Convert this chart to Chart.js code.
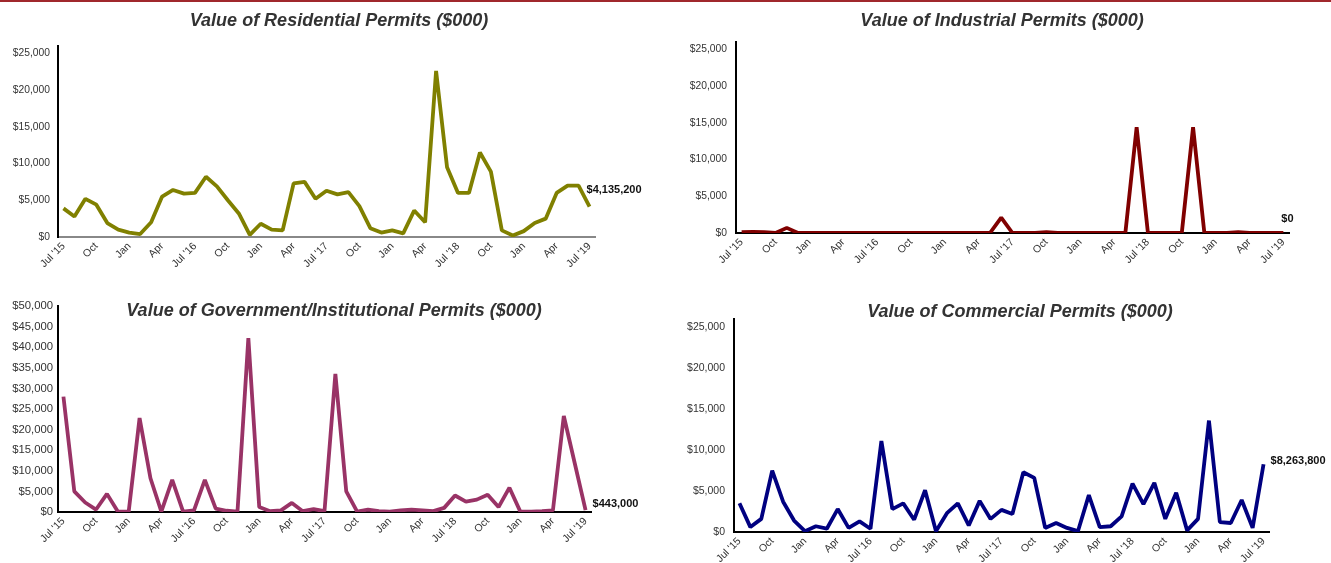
<!DOCTYPE html>
<html><head><meta charset="utf-8">
<script src="https://cdn.jsdelivr.net/npm/chart.js@4.4.1/dist/chart.umd.min.js"></script>
<style>
body{margin:0;width:1331px;height:563px;overflow:hidden;background:#fff;position:relative;font-family:"Liberation Sans",Arial,sans-serif;}
#topline{position:absolute;left:0;top:0;width:1331px;height:2px;background:#a0282c;}
.title{position:absolute;font:italic bold 18px "Liberation Sans",Arial,sans-serif;color:#333;transform:translate(-50%,-50%);white-space:nowrap;z-index:2;}
canvas{position:absolute;}
</style></head><body>
<div id="topline"></div>
<div class="title" style="left:339px;top:20px">Value of Residential Permits ($000)</div>
<div class="title" style="left:1002px;top:20px">Value of Industrial Permits ($000)</div>
<div class="title" style="left:334px;top:310px">Value of Government/Institutional Permits ($000)</div>
<div class="title" style="left:1020px;top:311px">Value of Commercial Permits ($000)</div>
<canvas id="c1" width="665" height="285" style="left:0;top:0"></canvas>
<canvas id="c2" width="666" height="285" style="left:665px;top:0"></canvas>
<canvas id="c3" width="665" height="278" style="left:0;top:285px"></canvas>
<canvas id="c4" width="666" height="278" style="left:665px;top:285px"></canvas>
<script>
const months = ["Jul '15","Aug '15","Sep '15","Oct '15","Nov '15","Dec '15",
"Jan '16","Feb '16","Mar '16","Apr '16","May '16","Jun '16","Jul '16","Aug '16","Sep '16","Oct '16","Nov '16","Dec '16",
"Jan '17","Feb '17","Mar '17","Apr '17","May '17","Jun '17","Jul '17","Aug '17","Sep '17","Oct '17","Nov '17","Dec '17",
"Jan '18","Feb '18","Mar '18","Apr '18","May '18","Jun '18","Jul '18","Aug '18","Sep '18","Oct '18","Nov '18","Dec '18",
"Jan '19","Feb '19","Mar '19","Apr '19","May '19","Jun '19","Jul '19"];
const tickLabels = ["Jul '15","Oct","Jan","Apr","Jul '16","Oct","Jan","Apr","Jul '17","Oct","Jan","Apr","Jul '18","Oct","Jan","Apr","Jul '19"];
const yTicks25 = [0,5000,10000,15000,20000,25000];
const yTicks50 = [0,5000,10000,15000,20000,25000,30000,35000,40000,45000,50000];

const residential = [3900,2800,5200,4400,1900,1000,600,400,2000,5500,6400,5900,6000,8200,6900,5000,3200,300,1800,1000,900,7300,7500,5200,6300,5800,6100,4200,1200,600,900,500,3600,2000,22600,9500,6000,6000,11500,8900,900,200,800,1900,2500,6000,7000,7000,4135.2];
const industrial = [100,150,100,0,700,0,0,0,0,0,0,0,0,0,0,0,0,0,0,0,0,0,0,2100,0,0,0,100,0,0,0,0,0,0,0,14400,0,0,0,0,14400,0,0,0,100,0,0,0,0];
const government = [28000,5000,2300,600,4400,100,100,22800,8200,100,7800,100,400,7800,800,300,100,42200,1200,200,400,2200,200,700,200,33500,5000,100,600,200,100,400,600,400,200,1000,4000,2500,3000,4200,1200,5900,100,100,200,400,23300,11900,443];
const commercial = [3500,600,1600,7500,3700,1400,100,700,400,2800,500,1300,400,11100,2800,3500,1500,5100,100,2300,3500,800,3800,1600,2700,2200,7300,6600,500,1100,500,100,4500,600,700,1900,5900,3400,6000,1600,4800,200,1600,13600,1200,1100,3900,500,8263.8];

const FONT = '"Liberation Sans", Arial, sans-serif';

const endLabel = {
  id: 'endLabel',
  afterDatasetsDraw(chart, args, opts) {
    const meta = chart.getDatasetMeta(0);
    const pt = meta.data[meta.data.length - 1];
    const ds = chart.data.datasets[0].data;
    const v = Math.round(ds[ds.length - 1] * 1000);
    const ctx = chart.ctx;
    ctx.save();
    ctx.font = 'bold 11px ' + FONT;
    ctx.fillStyle = '#111';
    ctx.textBaseline = 'middle';
    ctx.textAlign = 'left';
    ctx.fillText('$' + v.toLocaleString('en-US'), pt.x + opts.dx, pt.y + opts.dy);
    ctx.restore();
  }
};

function make(id, values, color, o) {
  new Chart(document.getElementById(id), {
    type: 'line',
    data: { labels: months, datasets: [{ data: values, borderColor: color, borderWidth: 3.8, borderJoinStyle: 'bevel', pointRadius: 0, tension: 0, fill: false }] },
    plugins: [endLabel],
    options: {
      responsive: false, animation: false, devicePixelRatio: 1,
      layout: { padding: o.pad },
      plugins: { legend: { display: false }, tooltip: { enabled: false }, title: { display: false }, endLabel: { dx: o.dx, dy: o.dy } },
      scales: {
        x: {
          type: 'category', offset: true,
          grid: { display: false, drawTicks: false },
          border: { display: true, color: o.xColor, width: 2 },
          ticks: {
            autoSkip: false, maxRotation: 45, minRotation: 45, padding: 3,
            color: '#333', font: { size: 10.5, family: FONT },
            callback: (val, i) => (i % 3 === 0 ? tickLabels[i / 3] : null)
          },
          afterFit: s => { s.height = o.xH; }
        },
        y: {
          type: 'linear', min: 0, max: o.yMax,
          grid: { display: false, drawTicks: false },
          border: { display: true, color: '#000', width: 2 },
          afterBuildTicks: s => { s.ticks = o.yTicks.map(v => ({ value: v })); },
          ticks: {
            autoSkip: false, padding: o.yPad, color: '#333', font: { size: o.fs, family: FONT },
            callback: v => '$' + Number(v).toLocaleString('en-US')
          },
          afterFit: s => { s.width = o.yW; }
        }
      }
    }
  });
}

make('c1', residential, '#808000', { pad: { left: 0, top: 46, right: 70, bottom: 0 }, xH: 48, yW: 58, yMax: 26000, yTicks: yTicks25, yPad: 8, fs: 10.3, xColor: '#888', dx: -3, dy: -17 });
make('c2', industrial, '#800000', { pad: { left: 0, top: 42, right: 42, bottom: 0 }, xH: 52, yW: 71, yMax: 26000, yTicks: yTicks25, yPad: 9, fs: 10.3, xColor: '#000', dx: -2, dy: -14 });
make('c3', government, '#993366', { pad: { left: 0, top: 21, right: 74, bottom: 0 }, xH: 51, yW: 58, yMax: 50000, yTicks: yTicks50, yPad: 5, fs: 11.3, xColor: '#000', dx: 7, dy: -6 });
make('c4', commercial, '#000080', { pad: { left: 0, top: 34, right: 62, bottom: 0 }, xH: 31, yW: 69, yMax: 26000, yTicks: yTicks25, yPad: 9, fs: 10.5, xColor: '#000', dx: 7, dy: -3 });
</script>
</body></html>
